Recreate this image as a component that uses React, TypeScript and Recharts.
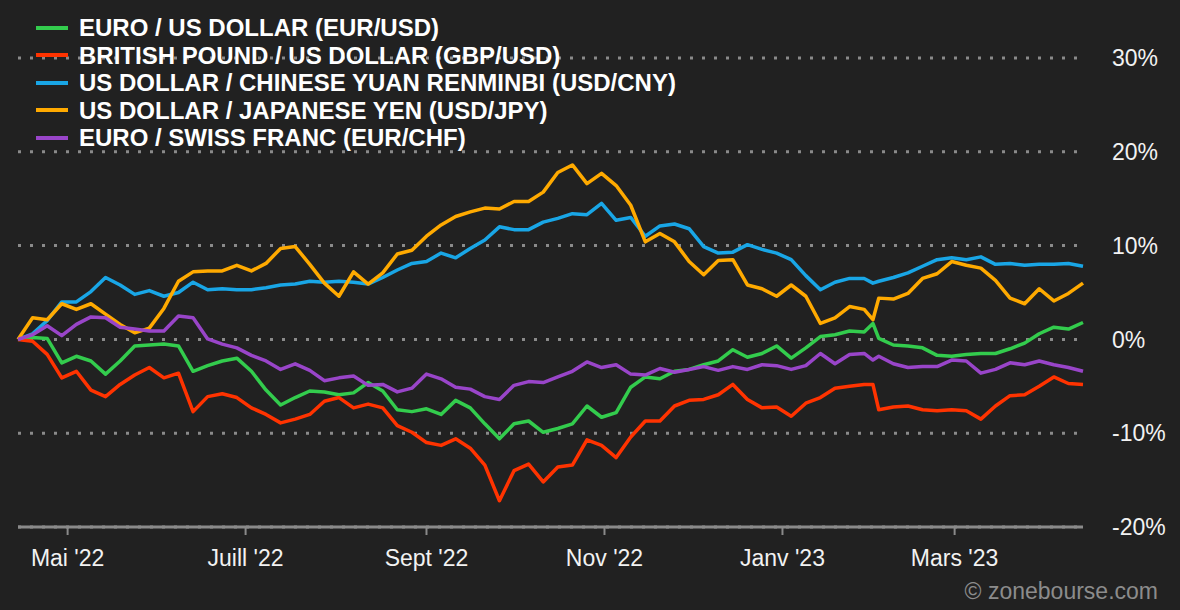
import { LineChart, Line, XAxis, YAxis, CartesianGrid } from 'recharts';

// days since 14 Apr 2022
const days = [
  0, 5, 10, 15, 20, 25, 30, 35, 40, 45, 50, 55, 60, 65, 70, 75, 80, 85, 90, 95,
  100, 105, 110, 115, 120, 125, 130, 135, 140, 145, 150, 155, 160, 165, 170, 175, 180, 185, 190, 195,
  200, 205, 210, 215, 220, 225, 230, 235, 240, 245, 250, 255, 260, 265, 270, 275, 280, 285, 290, 293,
  295, 300, 305, 310, 315, 320, 325, 330, 335, 340, 345, 350, 355, 360, 365,
];

const eurUsd = [
  0, 0.2, 0.1, -2.5, -1.8, -2.3, -3.7, -2.3, -0.7, -0.6, -0.5, -0.7, -3.4, -2.8, -2.3, -2.0, -3.4, -5.4, -7.0, -6.2,
  -5.5, -5.6, -5.9, -5.7, -4.6, -5.5, -7.5, -7.7, -7.4, -8.0, -6.5, -7.3, -9.0, -10.6, -9.0, -8.7, -9.9, -9.5, -9.0, -7.1,
  -8.3, -7.8, -5.1, -4.0, -4.2, -3.4, -3.2, -2.7, -2.3, -1.1, -1.9, -1.5, -0.7, -2.0, -0.9, 0.3, 0.5, 0.9, 0.8, 1.7,
  0.1, -0.6, -0.7, -0.9, -1.7, -1.8, -1.6, -1.5, -1.5, -1.0, -0.4, 0.6, 1.3, 1.1, 1.8,
];

const gbpUsd = [
  0, -0.2, -1.6, -4.1, -3.4, -5.4, -6.1, -4.8, -3.8, -3.0, -4.1, -3.6, -7.7, -6.1, -5.8, -6.2, -7.3, -8.0, -8.9, -8.5,
  -8.0, -6.6, -6.2, -7.3, -6.9, -7.3, -9.2, -9.9, -11.0, -11.3, -10.6, -11.6, -13.4, -17.2, -14.0, -13.3, -15.2, -13.6, -13.4, -10.7,
  -11.3, -12.6, -10.4, -8.7, -8.7, -7.1, -6.5, -6.4, -5.9, -4.8, -6.4, -7.3, -7.2, -8.2, -6.8, -6.2, -5.2, -5.0, -4.8, -4.8,
  -7.5, -7.2, -7.1, -7.5, -7.6, -7.5, -7.6, -8.5, -7.1, -6.0, -5.9, -5.0, -4.0, -4.7, -4.8,
];

const usdCny = [
  0, 0.6, 2.0, 4.0, 4.0, 5.1, 6.6, 5.8, 4.8, 5.2, 4.6, 5.0, 6.1, 5.3, 5.4, 5.3, 5.3, 5.5, 5.8, 5.9,
  6.2, 6.1, 6.2, 6.1, 5.9, 6.6, 7.4, 8.1, 8.3, 9.2, 8.7, 9.7, 10.6, 12.0, 11.7, 11.7, 12.5, 12.9, 13.4, 13.3,
  14.5, 12.7, 13.0, 11.0, 12.1, 12.3, 11.8, 9.9, 9.2, 9.3, 10.1, 9.6, 9.2, 8.5, 6.8, 5.3, 6.1, 6.5, 6.5, 6.0,
  6.2, 6.6, 7.1, 7.8, 8.5, 8.7, 8.5, 8.8, 8.0, 8.1, 7.9, 8.0, 8.0, 8.1, 7.8,
];

const usdJpy = [
  0, 2.3, 2.1, 3.8, 3.2, 3.8, 2.7, 1.6, 0.7, 1.2, 3.3, 6.2, 7.2, 7.3, 7.3, 7.9, 7.3, 8.1, 9.7, 9.9,
  8.0, 6.0, 4.6, 7.2, 5.9, 7.1, 9.1, 9.5, 11.0, 12.2, 13.1, 13.6, 14.0, 13.9, 14.7, 14.7, 15.7, 17.8, 18.6, 16.6,
  17.7, 16.4, 14.3, 10.4, 11.3, 10.4, 8.3, 6.9, 8.4, 8.5, 5.8, 5.4, 4.6, 5.8, 4.6, 1.7, 2.3, 3.5, 3.2, 2.1,
  4.4, 4.3, 4.9, 6.5, 7.0, 8.3, 7.9, 7.6, 6.3, 4.4, 3.8, 5.4, 4.1, 4.9, 6.0,
];

const eurChf = [
  0, 0.5, 1.45, 0.4, 1.6, 2.4, 2.3, 1.3, 1.1, 0.9, 0.9, 2.5, 2.3, 0.05, -0.5, -0.9, -1.7, -2.3, -3.2, -2.6,
  -3.3, -4.4, -4.1, -3.9, -4.9, -4.8, -5.6, -5.2, -3.7, -4.2, -5.1, -5.3, -6.1, -6.4, -4.9, -4.5, -4.6, -4.0, -3.4, -2.4,
  -3.0, -2.7, -3.7, -3.8, -3.1, -3.5, -3.2, -2.9, -3.3, -2.9, -3.2, -2.7, -2.8, -3.2, -2.8, -1.5, -2.6, -1.6, -1.5, -2.2,
  -1.8, -2.6, -3.0, -2.9, -2.9, -2.2, -2.3, -3.6, -3.2, -2.5, -2.7, -2.3, -2.7, -3.0, -3.4,
];

const monthTicks = [17, 78, 140, 201, 262, 321];
const monthLabels = ["Mai '22", "Juill '22", "Sept '22", "Nov '22", "Janv '23", "Mars '23"];
const percentTicks = [-20, -10, 0, 10, 20, 30];

const series = [
  { key: 'eurUsd', name: 'EURO / US DOLLAR (EUR/USD)', color: '#33cc4d', values: eurUsd },
  { key: 'gbpUsd', name: 'BRITISH POUND / US DOLLAR (GBP/USD)', color: '#ff3300', values: gbpUsd },
  { key: 'usdCny', name: 'US DOLLAR / CHINESE YUAN RENMINBI (USD/CNY)', color: '#19a6e6', values: usdCny },
  { key: 'usdJpy', name: 'US DOLLAR / JAPANESE YEN (USD/JPY)', color: '#ffaa00', values: usdJpy },
  { key: 'eurChf', name: 'EURO / SWISS FRANC (EUR/CHF)', color: '#9945c9', values: eurChf },
];

const chartData = days.map((day, i) => {
  const row: Record<string, number> = { day };
  series.forEach(s => {
    row[s.key] = s.values[i];
  });
  return row;
});

const FONT = '"Liberation Sans", Arial, sans-serif';
const GRID = '#8a8a8a';

const ChartLegend = () => (
  <div style={{ position: 'absolute', left: 36, top: 14, fontFamily: FONT }}>
    {series.map(s => (
      <div
        key={s.key}
        style={{ display: 'flex', alignItems: 'center', height: 27.5, lineHeight: '27.5px' }}
      >
        <span style={{ width: 32, height: 4, background: s.color, marginRight: 11 }} />
        <span style={{ color: '#fff', fontSize: 24, fontWeight: 'bold', whiteSpace: 'nowrap' }}>
          {s.name}
        </span>
      </div>
    ))}
  </div>
);

export default function App() {
  return (
    <div style={{ position: 'relative', width: 1180, height: 610, background: '#212121' }}>
      <style>{'body{margin:0;background:#212121}'}</style>
      <LineChart
        width={1180}
        height={610}
        data={chartData}
        margin={{ top: 58, right: 20, bottom: 53, left: 18 }}
        style={{ fontFamily: FONT }}
      >
        <CartesianGrid
          vertical={false}
          stroke={GRID}
          strokeWidth={3}
          strokeDasharray="3 9"
        />
        <XAxis
          type="number"
          dataKey="day"
          domain={[0, 365]}
          ticks={monthTicks}
          interval={0}
          tickFormatter={v => monthLabels[monthTicks.indexOf(v)]}
          axisLine={{ stroke: GRID, strokeWidth: 3 }}
          tickLine={{ stroke: GRID, strokeWidth: 2 }}
          tickSize={8}
          tickMargin={15}
          height={30}
          tick={{ fill: '#f2f2f2', fontSize: 23 }}
        />
        <YAxis
          orientation="right"
          domain={[-20, 30]}
          ticks={percentTicks}
          interval={0}
          tickFormatter={v => `${v}%`}
          axisLine={false}
          tickLine={false}
          tickSize={0}
          tickMargin={29}
          width={77}
          tick={{ fill: '#f2f2f2', fontSize: 23 }}
        />
        {series.map(s => (
          <Line
            key={s.key}
            type="linear"
            dataKey={s.key}
            name={s.name}
            stroke={s.color}
            strokeWidth={3.5}
            strokeLinejoin="round"
            dot={false}
            activeDot={false}
            isAnimationActive={false}
          />
        ))}
      </LineChart>
      <ChartLegend />
      <div
        style={{
          position: 'absolute',
          right: 22,
          top: 580,
          fontFamily: FONT,
          fontSize: 23,
          lineHeight: 1,
          color: '#8c8c8c',
        }}
      >
        © zonebourse.com
      </div>
    </div>
  );
}
